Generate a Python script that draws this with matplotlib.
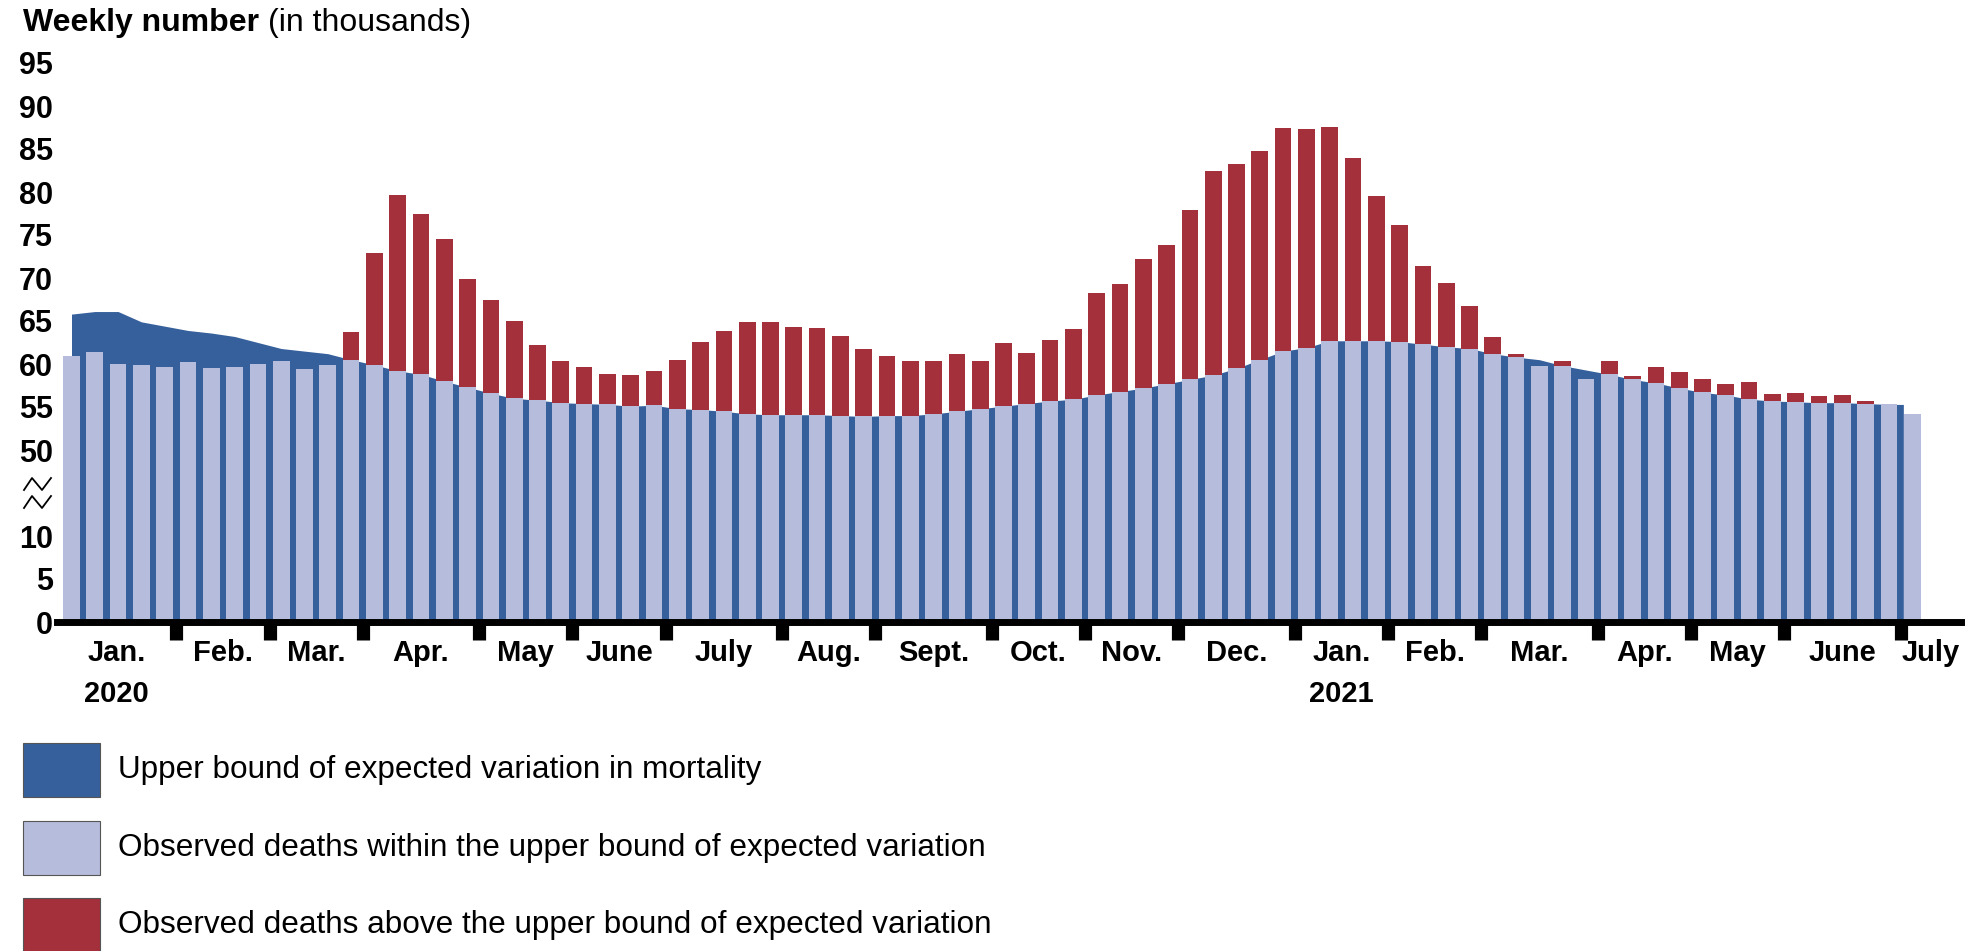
import numpy as np
import matplotlib
matplotlib.use('Agg')
import matplotlib.pyplot as plt
from matplotlib.patches import Rectangle
from matplotlib.lines import Line2D

plt.rcParams['font.family'] = ['Liberation Sans', 'DejaVu Sans']

# weekly deaths in thousands, week 1 of 2020 to week 27 of 2021
observed = [60.9, 61.4, 60.0, 59.9, 59.6, 60.2, 59.5, 59.6, 60.0, 60.4,
            59.4, 59.9, 63.7, 72.9, 79.6, 77.4, 74.5, 69.9, 67.4, 65.0,
            62.2, 60.4, 59.6, 58.8, 58.7, 59.2, 60.5, 62.6, 63.8, 64.9,
            64.9, 64.3, 64.2, 63.2, 61.8, 60.9, 60.3, 60.4, 61.2, 60.4,
            62.4, 61.3, 62.8, 64.1, 68.2, 69.3, 72.2, 73.8, 77.9, 82.4,
            83.3, 84.8, 87.4, 87.3, 87.6, 83.9, 79.5, 76.2, 71.4, 69.4,
            66.8, 63.1, 61.2, 59.8, 60.4, 58.2, 60.3, 58.6, 59.6, 59.1,
            58.2, 57.7, 57.9, 56.5, 56.6, 56.3, 56.4, 55.7, 55.4, 54.2]

# upper bound of expected variation (no value for the last week)
upper_bound = [65.8, 66.1, 66.1, 64.9, 64.4, 63.9, 63.6, 63.2, 62.5, 61.8,
               61.5, 61.2, 60.5, 59.9, 59.2, 58.8, 58.0, 57.3, 56.6, 56.0,
               55.8, 55.5, 55.4, 55.3, 55.1, 55.2, 54.8, 54.7, 54.5, 54.2,
               54.1, 54.1, 54.1, 54.0, 53.9, 54.0, 54.0, 54.2, 54.5, 54.8,
               55.1, 55.4, 55.7, 55.9, 56.4, 56.8, 57.2, 57.7, 58.2, 58.7,
               59.5, 60.5, 61.5, 61.9, 62.7, 62.7, 62.7, 62.6, 62.3, 62.0,
               61.8, 61.2, 60.8, 60.5, 59.8, 59.3, 58.8, 58.2, 57.8, 57.2,
               56.7, 56.4, 55.9, 55.7, 55.6, 55.5, 55.5, 55.4, 55.3]

months = ['Jan.', 'Feb.', 'Mar.', 'Apr.', 'May', 'June', 'July', 'Aug.',
          'Sept.', 'Oct.', 'Nov.', 'Dec.', 'Jan.', 'Feb.', 'Mar.', 'Apr.',
          'May', 'June', 'July']
weeks_in_month = [5, 4, 4, 5, 4, 4, 5, 4, 5, 4, 4, 5, 4, 4, 5, 4, 4, 5, 1]
years = ['2020', '2021']

low_ticks = [0, 5, 10]
high_ticks = [50, 55, 60, 65, 70, 75, 80, 85, 90, 95]

legend_labels = ['Upper bound of expected variation in mortality',
                 'Observed deaths within the upper bound of expected variation',
                 'Observed deaths above the upper bound of expected variation']

DARK_BLUE = '#36609C'
LIGHT_BLUE = '#B6BCDB'
RED = '#A3303B'
SHIFT = 30  # values from 50 up are drawn 30 lower (broken axis)

W, H = 1977, 951
fig = plt.figure(figsize=(W / 100, H / 100), dpi=100)
ax = fig.add_axes([57 / W, 1 - 622 / H, (1961 - 57) / W, 66 * 8.6 / H])

obs = np.array(observed)
ub = np.array(upper_bound)
n_ub = len(ub)
weeks = np.arange(1, len(obs) + 1)

light_top = np.concatenate([np.minimum(obs[:n_ub], ub), obs[n_ub:]])
excess = np.clip(obs[:n_ub] - ub, 0, None)

# blue area behind the bars
x_fill = np.append(weeks[:n_ub], weeks[n_ub - 1] + 0.62)
ax.fill_between(x_fill, 0, np.append(ub, ub[-1]) - SHIFT, color=DARK_BLUE, lw=0)
ax.bar(weeks, light_top - SHIFT, width=0.72, color=LIGHT_BLUE, lw=0)
ax.bar(weeks[:n_ub], excess, bottom=ub - SHIFT, width=0.72, color=RED, lw=0)

ax.axhline(0, color='black', lw=5, clip_on=False, zorder=5)

x0 = 1 - 14.5 / 23.3
x1 = x0 + 1904 / 23.3
ax.set_xlim(x0, x1)
ax.set_ylim(0, 66)
for s in ax.spines.values():
    s.set_visible(False)

yt = low_ticks + [v - SHIFT for v in high_ticks]
ax.set_yticks(yt)
ax.set_yticklabels([str(v) for v in low_ticks + high_ticks],
                   fontsize=22, fontweight='bold')
ax.tick_params(axis='y', length=0, pad=3)

bounds = np.cumsum(weeks_in_month)[:-1] + 0.5
ax.set_xticks(bounds)
ax.tick_params(axis='x', length=13, width=9.5, color='black',
               direction='out', labelbottom=False)

edges = np.concatenate([[x0], bounds, [x1]])
centers = (edges[:-1] + edges[1:]) / 2
for m, c in zip(months, centers):
    ax.annotate(m, xy=(c, 0), xycoords=('data', 'axes fraction'),
                xytext=(0, -22.5), textcoords='offset points',
                ha='center', va='center', fontsize=21, fontweight='bold')
jan_idx = [i for i, m in enumerate(months) if m == 'Jan.']
for y, i in zip(years, jan_idx):
    ax.annotate(y, xy=(centers[i], 0), xycoords=('data', 'axes fraction'),
                xytext=(0, -52), textcoords='offset points',
                ha='center', va='center', fontsize=21, fontweight='bold')

# axis break mark
for dy in (-9, 9):
    yc = 1 - (493 + dy) / H
    xs = np.array([24, 32, 42, 51]) / W
    ys = yc + np.array([-6, 6, -6, 6]) / H
    fig.add_artist(Line2D(xs, ys, color='black', lw=1.3))

# title
t1 = fig.text(23 / W, 1 - 23 / H, 'Weekly number', fontsize=23,
              fontweight='bold', va='center', ha='left')
fig.canvas.draw()
bb = t1.get_window_extent()
fig.text(bb.x1 / W + 9 / W, 1 - 23 / H, '(in thousands)', fontsize=23,
         va='center', ha='left')

# legend
for lab, col, yc in zip(legend_labels, [DARK_BLUE, LIGHT_BLUE, RED], [770, 848, 925]):
    fig.add_artist(Rectangle((23 / W, 1 - (yc + 27) / H), 77 / W, 54 / H,
                             transform=fig.transFigure, facecolor=col,
                             edgecolor='#555555', lw=0.8))
    fig.text(118 / W, 1 - yc / H, lab, fontsize=22.7, va='center', ha='left')

fig.savefig('out.png', dpi=100)
